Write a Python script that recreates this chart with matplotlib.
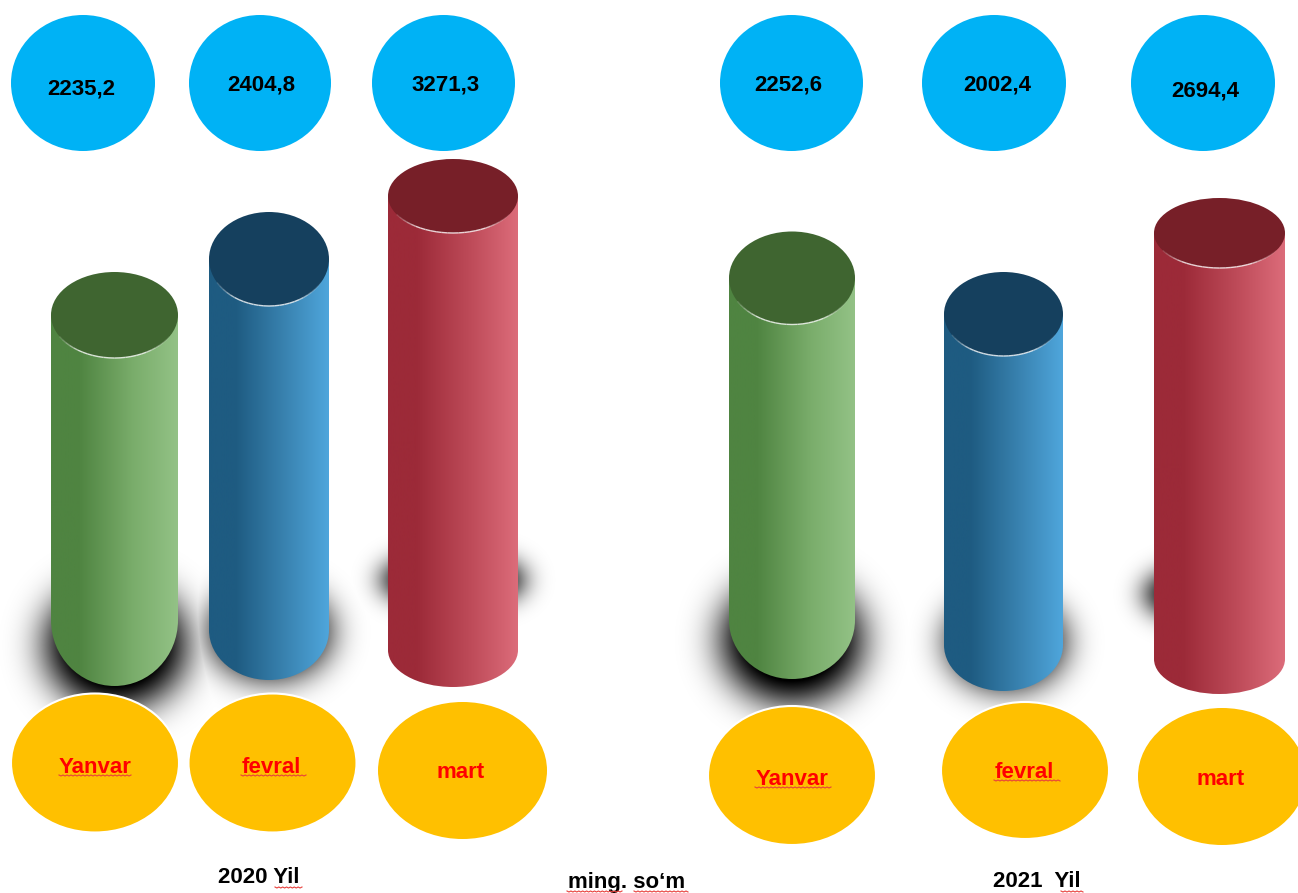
import numpy as np
import matplotlib
matplotlib.use("Agg")
import matplotlib.pyplot as plt
from matplotlib.patches import Ellipse, PathPatch
from matplotlib.path import Path
from matplotlib.colors import LinearSegmentedColormap

plt.rcParams['font.family'] = ['Liberation Sans', 'DejaVu Sans']

# ---- content ----
value_labels = ["2235,2", "2404,8", "3271,3", "2252,6", "2002,4", "2694,4"]
month_labels = ["Yanvar", "fevral", "mart", "Yanvar", "fevral", "mart"]
year_labels = ["2020 Yil", "ming. so\u2018m", "2021  Yil"]

# ---- layout (pixels of the reference) ----
W, H = 1298, 893
cyl_left = [51, 209, 388, 729, 944, 1154]
cyl_right = [178, 329, 518, 855, 1063, 1285]
cyl_cap_y = [315, 259, 196, 278, 314, 233]
cyl_cap_ry = [43, 47, 37, 46.5, 42, 35]
cyl_bottom = [686, 680, 687, 679, 691, 694]
cyl_bot_ry = [66, 50, 37, 59, 46, 35]
cyl_style = ["g", "b", "r", "g", "b", "r"]

gradients = {
    "g": ["#4f8441", "#4f8441", "#7aad6b", "#93c286"],
    "b": ["#1e5b81", "#1e5b81", "#3a84b2", "#4fa6dc"],
    "r": ["#9c2a38", "#9c2a38", "#bf4c5a", "#dc6c7a"],
}
cap_colors = {"g": "#3f6530", "b": "#15405e", "r": "#771f28"}

# shadow blobs before blurring: centre x, centre y, rx, ry, gain, sigma
shadows = [
    (116, 645, 70, 62, 1.20, 19),
    (270, 632, 62, 48, 1.00, 16),
    (453, 580, 72, 22, 1.35, 13),
    (792, 640, 70, 62, 1.20, 19),
    (1006, 642, 60, 48, 1.00, 16),
    (1200, 594, 56, 24, 1.20, 13),
]

blue_x = [83, 260, 443.5, 791.5, 994, 1203]
blue_y = [83, 83, 83, 83, 83, 83]
blue_rx = [72, 71, 71.5, 71.5, 72, 72]
blue_ry = 68
value_xy = [(81, 95), (261, 90), (446, 90), (788, 90), (997, 90), (1205, 96)]

gold_x = [95, 272.5, 462.5, 792, 1025, 1222]
gold_y = [763, 763, 770.5, 775.5, 770.5, 776.5]
gold_rx = [84, 84, 84.5, 84, 84, 84]
gold_ry = [69.5, 69.5, 68.5, 69.5, 68.5, 68.5]
gold_rim = [True, True, False, True, True, False]
month_xy = [(95, 773), (271, 773), (461, 778), (792, 785), (1024, 778), (1221, 785)]

year_xy = [(259, 883), (627, 888), (1037, 887)]
squiggles = [(59, 131, 775), (241, 306, 775), (755, 831, 787), (994, 1060, 780),
             (275, 302, 887), (567, 622, 891), (634, 688, 891), (1061, 1083, 891)]

fig = plt.figure(figsize=(W / 100, H / 100), dpi=100, facecolor="white")
ax = fig.add_axes([0, 0, 1, 1])
ax.set_xlim(0, W)
ax.set_ylim(H, 0)
ax.axis("off")


def blur(img, sigma):
    r = int(3 * sigma)
    k = np.exp(-0.5 * (np.arange(-r, r + 1) / sigma) ** 2)
    k /= k.sum()
    img = np.apply_along_axis(lambda v: np.convolve(v, k, mode="same"), 0, img)
    return np.apply_along_axis(lambda v: np.convolve(v, k, mode="same"), 1, img)


# shadows
yy, xx = np.mgrid[0:H, 0:W] + 0.5
alpha = np.zeros((H, W))
for cx, cy, rx, ry, gain, sigma in shadows:
    pad = int(3.2 * sigma)
    x0, x1 = max(int(cx - rx - pad), 0), min(int(cx + rx + pad), W)
    y0, y1 = max(int(cy - ry - pad), 0), min(int(cy + ry + pad), H)
    mask = (((xx[y0:y1, x0:x1] - cx) / rx) ** 2 + ((yy[y0:y1, x0:x1] - cy) / ry) ** 2 <= 1).astype(float)
    a = np.clip(blur(mask, sigma) * gain, 0, 1)
    alpha[y0:y1, x0:x1] = np.maximum(alpha[y0:y1, x0:x1], a)
rgba = np.zeros((H, W, 4))
rgba[..., 3] = alpha
ax.imshow(rgba, extent=(0, W, H, 0), zorder=1, interpolation="bilinear", aspect="auto")
ax.set_xlim(0, W)
ax.set_ylim(H, 0)

# cylinders
K = 0.5523
for x0, x1, cy, cry, yb, bry, st in zip(cyl_left, cyl_right, cyl_cap_y, cyl_cap_ry,
                                        cyl_bottom, cyl_bot_ry, cyl_style):
    xm = (x0 + x1) / 2
    rx = (x1 - x0) / 2
    ys = yb - bry
    verts = [(x0, cy), (x0, ys),
             (x0, ys + K * bry), (xm - K * rx, yb), (xm, yb),
             (xm + K * rx, yb), (x1, ys + K * bry), (x1, ys),
             (x1, cy), (x0, cy)]
    codes = [Path.MOVETO, Path.LINETO, Path.CURVE4, Path.CURVE4, Path.CURVE4,
             Path.CURVE4, Path.CURVE4, Path.CURVE4, Path.LINETO, Path.CLOSEPOLY]
    clip = PathPatch(Path(verts, codes), transform=ax.transData, fc="none", ec="none")
    ax.add_patch(clip)
    cmap = LinearSegmentedColormap.from_list(
        "c", list(zip([0, 0.22, 0.65, 1.0], gradients[st])))
    grad = np.linspace(0, 1, 256).reshape(1, -1)
    im = ax.imshow(grad, cmap=cmap, extent=(x0, x1, yb, cy), zorder=2, aspect="auto")
    im.set_clip_path(clip)
    ax.add_patch(Ellipse((xm, cy), x1 - x0, 2 * cry, fc=cap_colors[st], ec="none", zorder=3))
    # thin light rim along the lower edge of the cap, fading out toward the sides
    th = np.radians(np.linspace(30, 150, 25))
    rim_x = xm + rx * np.cos(th)
    rim_y = cy + cry * np.sin(th)
    for i in range(len(th) - 1):
        fade = min(1.0, np.sin(th[i]) * 1.15)
        ax.plot(rim_x[i:i + 2], rim_y[i:i + 2], color="white", lw=1.0, alpha=0.8 * fade ** 4,
                solid_capstyle="butt", zorder=3.1)

# value ovals
for x, y, rx in zip(blue_x, blue_y, blue_rx):
    ax.add_patch(Ellipse((x, y), 2 * rx, 2 * blue_ry, fc="#00b2f5", ec="none", zorder=4))
for (x, y), s in zip(value_xy, value_labels):
    ax.text(x, y, s, ha="center", va="baseline", fontsize=16, fontweight="bold",
            color="black", zorder=6)

# month ovals
for x, y, rx, ry, rim in zip(gold_x, gold_y, gold_rx, gold_ry, gold_rim):
    ax.add_patch(Ellipse((x, y), 2 * rx, 2 * ry, fc="#ffc000", ec="white" if rim else "none",
                         lw=1.5, zorder=4))
for (x, y), s in zip(month_xy, month_labels):
    ax.text(x, y, s, ha="center", va="baseline", fontsize=16, fontweight="bold",
            color="#ff0000", zorder=6)

# footer
for (x, y), s in zip(year_xy, year_labels):
    ax.text(x, y, s, ha="center", va="baseline", fontsize=16, fontweight="bold",
            color="black", zorder=6)

# spell-check underlines
for a, b, y in squiggles:
    n = int(round((b - a) / 2))
    sx = a + 2.0 * np.arange(n + 1) * (b - a) / (2.0 * n)
    sy = y + 1.0 * (np.arange(n + 1) % 2)
    ax.plot(sx, sy, color="#e8403c", lw=0.8, zorder=7, solid_joinstyle="miter")

ax.set_xlim(0, W)
ax.set_ylim(H, 0)
fig.savefig("out.png", dpi=100, facecolor="white")
